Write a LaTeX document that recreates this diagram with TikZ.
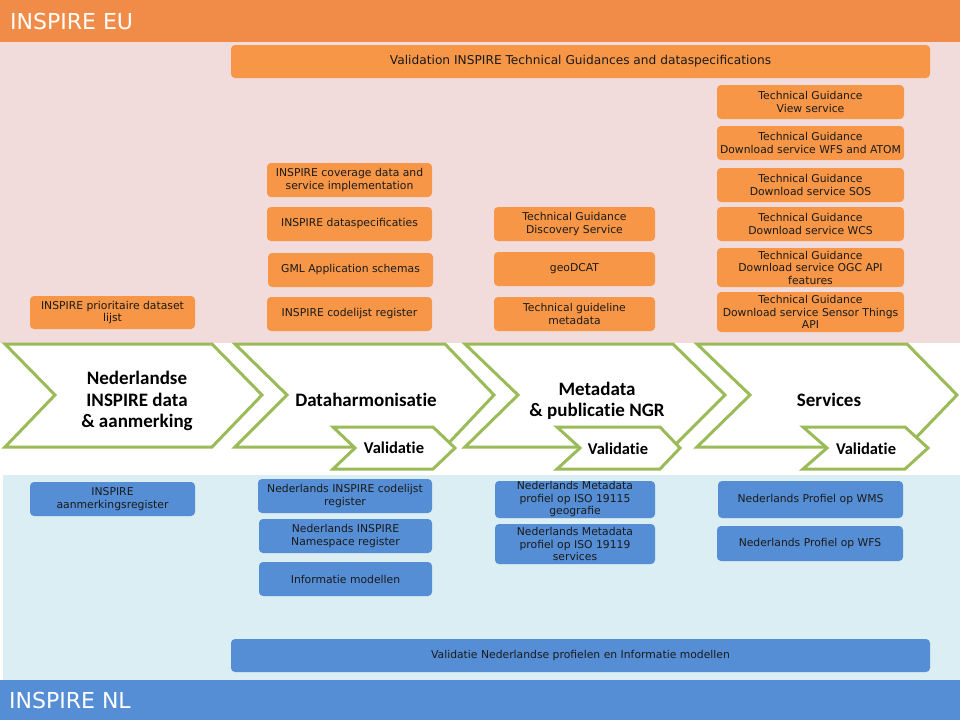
\documentclass[tikz,border=0pt]{standalone}
\usepackage{fontspec}
\setmainfont{DejaVu Sans}
\newfontfamily\chevfont[RawFeature=-liga]{Carlito}
\definecolor{hdrorange}{HTML}{F08B48}
\definecolor{pinkbg}{HTML}{F2DCDB}
\definecolor{boxorange}{HTML}{F79646}
\definecolor{lightblue}{HTML}{DAEEF3}
\definecolor{boxblue}{HTML}{558ED5}
\definecolor{chevgreen}{HTML}{9BBB59}
\definecolor{txt}{HTML}{1A1A1A}
\begin{document}
\begin{tikzpicture}[x=1pt,y=-1pt,
  band/.style={anchor=west, text=white, font=\fontsize{22}{26}\selectfont, inner sep=0pt},
  basebox/.style={draw=none, rounded corners=4pt, align=center, inner sep=0pt, text=txt,
    font=\fontsize{10.8}{12.5}\selectfont},
  obox/.style={basebox, fill=boxorange},
  bbox/.style={basebox, fill=boxblue},
  chev/.style={draw=chevgreen, line width=3pt, fill=white, line join=miter},
  chevtext/.style={align=center, inner sep=0pt, text=black, font=\chevfont\bfseries\fontsize{19}{21.5}\selectfont},
  valtext/.style={inner sep=0pt, text=black, font=\chevfont\bfseries\fontsize{16.5}{18}\selectfont}
]
\useasboundingbox (0,0) rectangle (960,720);
% backgrounds
\fill[pinkbg] (0,42) rectangle (960,343);
\fill[white] (0,343) rectangle (960,475);
\fill[lightblue] (3,475) rectangle (960,680);
\fill[hdrorange] (0,0) rectangle (960,42);
\fill[boxblue] (0,680) rectangle (960,720);
\node[band] (eu) at (10,21) {INSPIRE EU};
\node[band] (nl) at (9,700) {INSPIRE NL};

% orange boxes
\node[obox, minimum width=699, minimum height=33, font=\fontsize{12.2}{14}\selectfont] (valeu) at (580.5,61.5) {Validation INSPIRE Technical Guidances and dataspecifications};
\node[obox, minimum width=187, minimum height=34] (tgview) at (810.5,102) {Technical Guidance\\View service};
\node[obox, minimum width=187, minimum height=34] (tgwfs) at (810.5,143) {Technical Guidance\\Download service WFS and ATOM};
\node[obox, minimum width=187, minimum height=34] (tgsos) at (810.5,185) {Technical Guidance\\Download service SOS};
\node[obox, minimum width=187, minimum height=34] (tgwcs) at (810.5,224) {Technical Guidance\\Download service WCS};
\node[obox, minimum width=187, minimum height=39] (tgogc) at (810.5,267.5) {Technical Guidance\\Download service OGC API\\features};
\node[obox, minimum width=187, minimum height=40] (tgsta) at (810.5,312) {Technical Guidance\\Download service Sensor Things\\API};
\node[obox, minimum width=165, minimum height=34] (cov) at (349.5,180) {INSPIRE coverage data and\\service implementation};
\node[obox, minimum width=165, minimum height=34] (dspec) at (349.5,224) {INSPIRE dataspecificaties};
\node[obox, minimum width=165, minimum height=34] (gml) at (350.5,270) {GML Application schemas};
\node[obox, minimum width=165, minimum height=34] (codel) at (349.5,314) {INSPIRE codelijst register};
\node[obox, minimum width=161, minimum height=34] (disc) at (574.5,224) {Technical Guidance\\Discovery Service};
\node[obox, minimum width=161, minimum height=34] (geodcat) at (574.5,269) {geoDCAT};
\node[obox, minimum width=161, minimum height=34] (tgmeta) at (574.5,314) {Technical guideline\\metadata};
\node[obox, minimum width=165, minimum height=33] (prior) at (112.5,312.5) {INSPIRE prioritaire dataset\\lijst};

% chevrons
\draw[chev] (5,344) -- (212,344) -- (262,395) -- (212,447) -- (5,447) -- (55,395) -- cycle;
\draw[chev] (235,344) -- (445,344) -- (494,395) -- (445,447) -- (235,447) -- (287,395) -- cycle;
\draw[chev] (465,344) -- (673,344) -- (725,395) -- (673,447) -- (465,447) -- (518,395) -- cycle;
\draw[chev] (697,344) -- (907,344) -- (957,395) -- (907,447) -- (697,447) -- (750,395) -- cycle;
\draw[chev] (333,427) -- (433,427) -- (455,448) -- (433,469) -- (333,469) -- (355,448) -- cycle;
\draw[chev] (557,427) -- (660,427) -- (680,448) -- (660,469) -- (557,469) -- (580,448) -- cycle;
\draw[chev] (803,427) -- (905,427) -- (928,448) -- (905,469) -- (803,469) -- (827,448) -- cycle;

\node[chevtext] (c1) at (137,401) {Nederlandse\\INSPIRE data\\\& aanmerking};
\node[chevtext] (c2) at (366,400) {Dataharmonisatie};
\node[chevtext] (c3) at (597,401) {Metadata\\\& publicatie NGR};
\node[chevtext] (c4) at (829,400) {Services};
\node[valtext] (v2) at (394,448) {Validatie};
\node[valtext] (v3) at (618,449) {Validatie};
\node[valtext] (v4) at (866,449) {Validatie};

% blue boxes
\node[bbox, minimum width=165, minimum height=34] (aanm) at (112.5,499) {INSPIRE\\aanmerkingsregister};
\node[bbox, minimum width=174, minimum height=34] (nlcode) at (345,496) {Nederlands INSPIRE codelijst\\register};
\node[bbox, minimum width=173, minimum height=34] (nlns) at (345.5,536) {Nederlands INSPIRE\\Namespace register};
\node[bbox, minimum width=173, minimum height=34] (infomod) at (345.5,579) {Informatie modellen};
\node[bbox, minimum width=160, minimum height=37] (md115) at (575,499.5) {Nederlands Metadata\\profiel op ISO 19115\\geografie};
\node[bbox, minimum width=160, minimum height=40] (md119) at (575,544) {Nederlands Metadata\\profiel op ISO 19119\\services};
\node[bbox, minimum width=185, minimum height=37] (wms) at (810.5,499.5) {Nederlands Profiel op WMS};
\node[bbox, minimum width=186, minimum height=35] (wfs) at (810,543.5) {Nederlands Profiel op WFS};
\node[bbox, minimum width=699, minimum height=33, font=\fontsize{10.8}{12.5}\selectfont] (valnl) at (580.5,655.5) {Validatie Nederlandse profielen en Informatie modellen};
\end{tikzpicture}
\end{document}
